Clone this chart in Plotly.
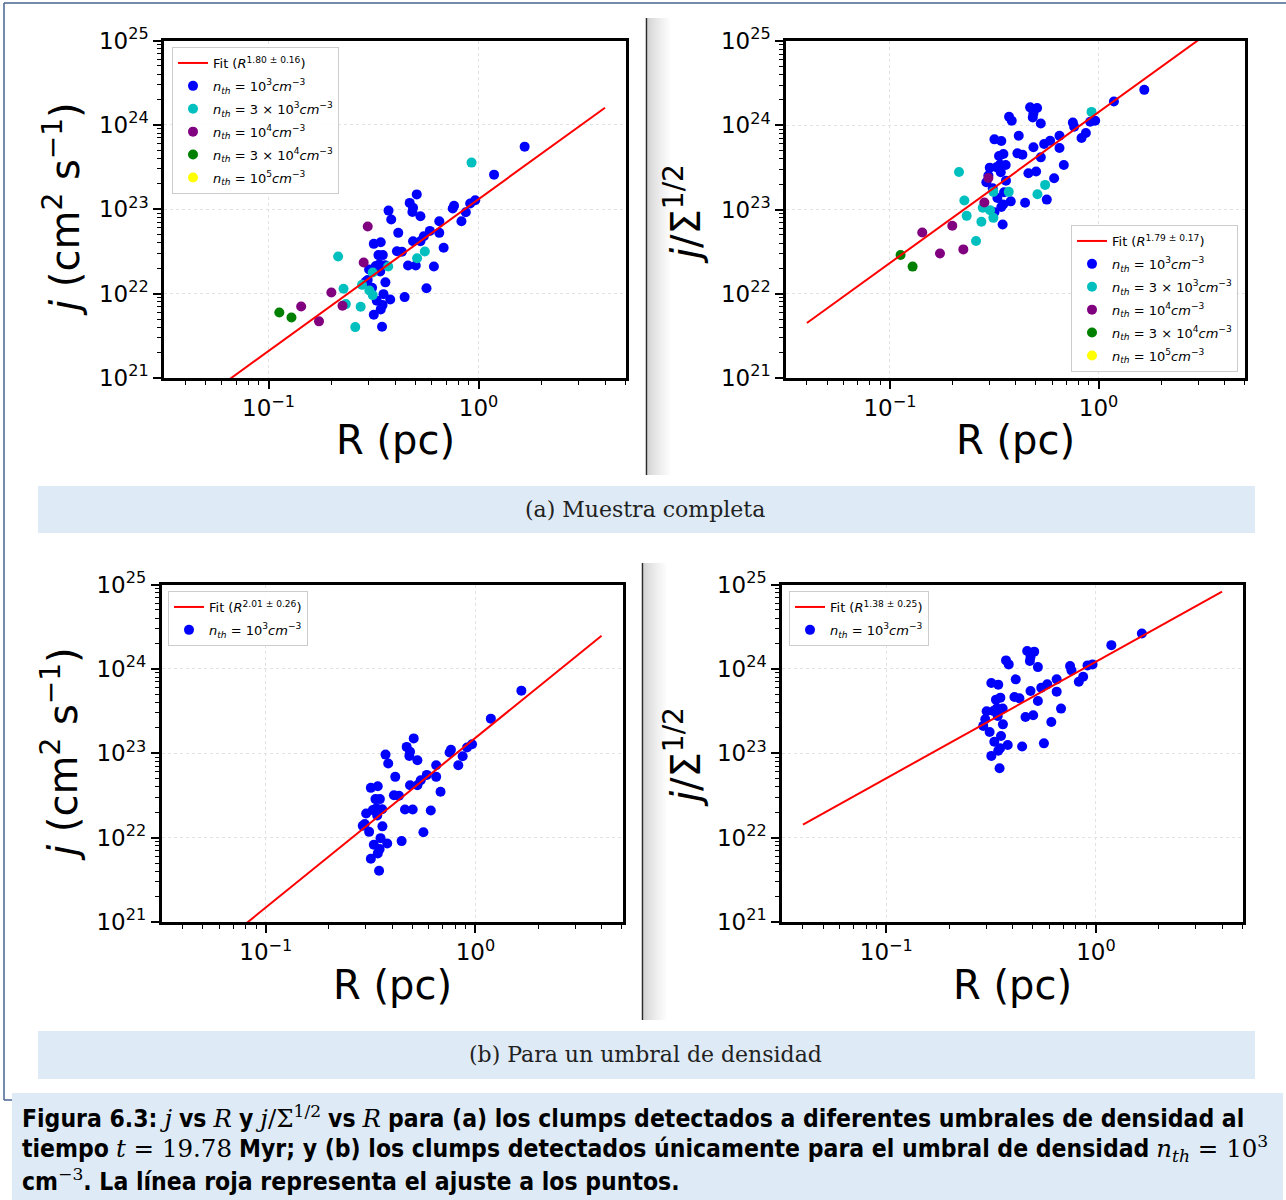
import plotly.graph_objects as go

W, H = 1286, 1200

# ------------------------- data -------------------------
# clumps at n_th = 1e3 cm^-3 (shared by all four panels)
R_n1e3 = [0.290, 0.2965, 0.301, 0.311, 0.317, 0.317, 0.324, 0.3275, 0.3335, 0.337,
          0.340, 0.342, 0.342, 0.347, 0.349, 0.350, 0.3525, 0.359, 0.360, 0.3725,
          0.3795, 0.3837, 0.4085, 0.4145, 0.4316, 0.4446, 0.4613, 0.4699, 0.4840, 0.4875,
          0.4875, 0.5021, 0.5077, 0.5287, 0.5287, 0.5485, 0.5649, 0.5861, 0.6126, 0.6499,
          0.6499, 0.6818, 0.7530, 0.7642, 0.8288, 0.8694, 0.9120, 0.9638, 1.185, 1.657]
j_n1e3 = [1.38e22, 1.45e22, 1.93e22, 1.17e22, 3.89e22, 5.62e21, 2.12e22, 8.23e21, 2.86e22, 2.23e22,
          1.83e22, 4.07e22, 6.50e21, 4.05e21, 7.31e21, 2.86e22, 9.86e21, 2.17e22, 1.36e22, 9.64e22,
          8.53e21, 7.55e22, 3.18e22, 5.25e22, 3.13e22, 9.09e21, 2.15e22, 1.19e23, 9.30e22, 1.04e23,
          4.18e22, 2.15e22, 1.50e23, 4.18e22, 8.26e22, 4.79e22, 1.16e22, 5.54e22, 2.10e22, 7.21e22,
          5.25e22, 3.49e22, 1.02e23, 1.10e23, 7.21e22, 9.21e22, 1.17e23, 1.28e23, 2.57e23, 5.52e23]
js_n1e3 = [2.11e23, 2.53e23, 3.14e23, 1.79e23, 6.80e23, 9.30e22, 3.17e23, 1.37e23, 4.32e23, 3.41e23,
           2.77e23, 6.50e23, 1.07e23, 6.65e22, 1.15e23, 4.56e23, 1.60e23, 3.38e23, 2.20e23, 1.26e24,
           1.25e23, 1.13e24, 4.64e23, 7.51e23, 4.48e23, 1.20e23, 2.69e23, 1.63e24, 1.24e24, 1.38e24,
           5.47e23, 2.82e23, 1.60e24, 4.16e23, 1.05e24, 5.98e23, 1.31e23, 6.56e23, 2.35e23, 7.51e23,
           5.37e23, 3.38e23, 1.08e24, 9.60e23, 7.05e23, 8.08e23, 1.10e24, 1.13e24, 1.91e24, 2.63e24]

# clumps at n_th = 3e3 cm^-3
R_n3e3 = [0.2144, 0.2274, 0.2333, 0.2587, 0.2745, 0.2786, 0.302, 0.3133, 0.3133, 0.3712, 0.5096, 0.5546, 0.9256]
j_n3e3 = [2.75e22, 1.14e22, 7.51e21, 4.01e21, 6.98e21, 1.27e22, 1.09e22, 9.60e21, 1.78e22, 2.10e22, 2.63e22, 3.16e22, 3.57e23]
js_n3e3 = [2.79e23, 1.28e23, 8.41e22, 4.22e22, 7.14e22, 1.05e23, 9.82e22, 7.96e22, 1.62e23, 1.62e23, 1.52e23, 1.96e23, 1.44e24]

# clumps at n_th = 1e4 cm^-3
R_n1e4 = [0.2965, 0.2837, 0.1991, 0.2249, 0.1429, 0.1738]
j_n1e4 = [6.24e22, 2.34e22, 1.03e22, 7.18e21, 7.05e21, 4.69e21]
js_n1e4 = [2.37e23, 1.21e23, 6.41e22, 3.36e22, 5.34e22, 3.01e22]

# clumps at n_th = 3e4 cm^-3
R_n3e4 = [0.1125, 0.1285]
j_n3e4 = [5.98e21, 5.22e21]
js_n3e4 = [2.88e22, 2.10e22]

# clumps at n_th = 1e5 cm^-3 (no clump shown; legend entry only)
R_n1e5 = [None]
j_n1e5 = [None]
js_n1e5 = [None]

# power-law fits  y = 10**logA * R**slope, drawn over R in fit_R_range
fit_R_range = [0.04, 4.0]
fit_slope = {"TL": 1.80, "TR": 1.79, "BL": 2.01, "BR": 1.38}
fit_logA = {"TL": 23.12, "TR": 24.155, "BL": 23.182, "BR": 24.084}
fit_label = {"TL": "1.80 ± 0.16", "TR": "1.79 ± 0.17", "BL": "2.01 ± 0.26", "BR": "1.38 ± 0.25"}

x_major = [0.1, 1.0]
x_major_text = ["10<sup>−1</sup>", "10<sup>0</sup>"]
y_major = [1e21, 1e22, 1e23, 1e24, 1e25]
y_major_text = ["10<sup>21</sup>", "10<sup>22</sup>", "10<sup>23</sup>", "10<sup>24</sup>", "10<sup>25</sup>"]
x_minor = [0.04, 0.05, 0.06, 0.07, 0.08, 0.09, 0.2, 0.3, 0.4, 0.5, 0.6, 0.7, 0.8, 0.9, 2, 3, 4, 5]
y_minor = [k * 10.0 ** e for e in range(21, 25) for k in range(2, 10)]

# ------------------------- layout helpers -------------------------
def fx(x):
    return x / W

def fy(y):
    return 1 - y / H

panels = {
    "TL": dict(ax="", x=(164, 626), y=(40.5, 378)),
    "TR": dict(ax="2", x=(786, 1245), y=(41, 378)),
    "BL": dict(ax="3", x=(161.5, 622.5), y=(584.5, 922)),
    "BR": dict(ax="4", x=(782, 1243), y=(584.5, 922)),
}
legend_of = {"TL": "legend", "TR": "legend2", "BL": "legend3", "BR": "legend4"}

series = [
    ("n1e3", "<i>n<sub>th</sub></i> = 10<sup>3</sup><i>cm</i><sup>−3</sup>", "#0000ff", R_n1e3, j_n1e3, js_n1e3),
    ("n3e3", "<i>n<sub>th</sub></i> = 3 × 10<sup>3</sup><i>cm</i><sup>−3</sup>", "#00bfbf", R_n3e3, j_n3e3, js_n3e3),
    ("n1e4", "<i>n<sub>th</sub></i> = 10<sup>4</sup><i>cm</i><sup>−3</sup>", "#800080", R_n1e4, j_n1e4, js_n1e4),
    ("n3e4", "<i>n<sub>th</sub></i> = 3 × 10<sup>4</sup><i>cm</i><sup>−3</sup>", "#008000", R_n3e4, j_n3e4, js_n3e4),
    ("n1e5", "<i>n<sub>th</sub></i> = 10<sup>5</sup><i>cm</i><sup>−3</sup>", "#ffff00", R_n1e5, j_n1e5, js_n1e5),
]

fig = go.Figure()

for key, p in panels.items():
    xa = "x" + p["ax"]
    ya = "y" + p["ax"]
    use_js = key in ("TR", "BR")
    ser = series if key in ("TL", "TR") else series[:1]
    for rank, (sid, name, col, R, j, js) in enumerate(ser):
        fig.add_trace(go.Scatter(
            x=R, y=(js if use_js else j), mode="markers", name=name,
            marker=dict(color=col, size=10, line=dict(width=0)),
            xaxis=xa, yaxis=ya, legend=legend_of[key], legendgroup=key + sid,
            legendrank=rank + 2,
        ))
    fr = fit_R_range
    fy_vals = [10 ** fit_logA[key] * r ** fit_slope[key] for r in fr]
    fig.add_trace(go.Scatter(
        x=fr, y=fy_vals, mode="lines", name="Fit (<i>R</i><sup>" + fit_label[key] + "</sup>)",
        line=dict(color="#ff0000", width=2), xaxis=xa, yaxis=ya,
        legend=legend_of[key], legendgroup=key + "fit", legendrank=1,
    ))

tickfont = dict(family="DejaVu Sans", size=23, color="black")
for key, p in panels.items():
    xa = dict(
        type="log", range=[-1.498, 0.702], domain=[fx(p["x"][0]), fx(p["x"][1])],
        anchor="y" + p["ax"], showline=True, linewidth=2.5, linecolor="black", mirror=True,
        ticks="outside", ticklen=8, tickwidth=1.5, tickcolor="black",
        tickmode="array", tickvals=x_major, ticktext=x_major_text, tickfont=tickfont,
        showgrid=True, gridcolor="#e2e2e2", griddash="dot", gridwidth=1, zeroline=False,
        automargin=False,
        minor=dict(tickmode="array", tickvals=x_minor, ticks="outside", ticklen=4, tickwidth=1,
                   tickcolor="black", showgrid=False),
    )
    ya = dict(
        type="log", range=[21, 25], domain=[fy(p["y"][1]), fy(p["y"][0])],
        anchor="x" + p["ax"], showline=True, linewidth=2.5, linecolor="black", mirror=True,
        ticks="outside", ticklen=8, tickwidth=1.5, tickcolor="black",
        tickmode="array", tickvals=y_major, ticktext=y_major_text, tickfont=tickfont,
        showgrid=True, gridcolor="#e2e2e2", griddash="dot", gridwidth=1, zeroline=False,
        automargin=False,
        minor=dict(tickmode="array", tickvals=y_minor, ticks="outside", ticklen=4, tickwidth=1,
                   tickcolor="black", showgrid=False),
    )
    fig.update_layout(**{"xaxis" + p["ax"]: xa, "yaxis" + p["ax"]: ya})

legend_common = dict(
    bgcolor="rgba(255,255,255,0.9)", bordercolor="#cccccc", borderwidth=1,
    font=dict(family="DejaVu Sans", size=13, color="black"),
    tracegroupgap=3, traceorder="grouped",
)
fig.update_layout(
    legend=dict(x=fx(172), y=fy(47), xanchor="left", yanchor="top", **legend_common),
    legend2=dict(x=fx(1238), y=fy(372), xanchor="right", yanchor="bottom", **legend_common),
    legend3=dict(x=fx(168), y=fy(591), xanchor="left", yanchor="top", **legend_common),
    legend4=dict(x=fx(789), y=fy(591), xanchor="left", yanchor="top", **legend_common),
)

# ------------------------- decorations -------------------------
shapes = []
frame_col = "#46648f"
panel_bg = "#deebf6"
# outer frame
shapes.append(dict(type="line", xref="paper", yref="paper", x0=fx(4), x1=fx(1286), y0=fy(3), y1=fy(3),
                   line=dict(color=frame_col, width=1.5)))
shapes.append(dict(type="line", xref="paper", yref="paper", x0=fx(4), x1=fx(4), y0=fy(3), y1=fy(1100),
                   line=dict(color=frame_col, width=1.5)))
shapes.append(dict(type="line", xref="paper", yref="paper", x0=fx(4), x1=fx(12), y0=fy(1100), y1=fy(1100),
                   line=dict(color=frame_col, width=1.5)))
# sub-caption boxes and caption box
for (x0, y0, x1, y1) in [(38, 486, 1255, 533), (38, 1031, 1255, 1079), (12, 1093, 1283, 1200)]:
    shapes.append(dict(type="rect", xref="paper", yref="paper", x0=fx(x0), x1=fx(x1), y0=fy(y1), y1=fy(y0),
                       line=dict(width=0), fillcolor=panel_bg, layer="below"))
# vertical dividers with soft shadow
for (xl, yt, yb) in [(646.5, 18, 475), (642.5, 563, 1020)]:
    n = 24
    for i in range(n):
        g = int(196 + (255 - 196) * (i / (n - 1)) ** 0.8)
        shapes.append(dict(type="rect", xref="paper", yref="paper", x0=fx(xl + 1 + i), x1=fx(xl + 2 + i),
                           y0=fy(yb), y1=fy(yt), line=dict(width=0),
                           fillcolor="rgb(%d,%d,%d)" % (g, g, g), layer="below"))
    shapes.append(dict(type="line", xref="paper", yref="paper", x0=fx(xl), x1=fx(xl), y0=fy(yb), y1=fy(yt),
                       line=dict(color="#2a2a2a", width=1.5)))
fig.update_layout(shapes=shapes)

ann = []
title_font = dict(family="DejaVu Sans", size=40, color="black")
for (x, y) in [(395, 440), (1015, 440), (392, 985), (1012, 985)]:
    ann.append(dict(x=fx(x), y=fy(y), xref="paper", yref="paper", text="R (pc)", showarrow=False,
                    font=title_font, xanchor="center", yanchor="middle"))
for (x, y) in [(62, 209), (60, 754)]:
    ann.append(dict(x=fx(x), y=fy(y), xref="paper", yref="paper",
                    text="<i>j</i> (cm<sup>2</sup> s<sup>−1</sup>)", showarrow=False, textangle=-90,
                    font=title_font, xanchor="center", yanchor="middle"))
for (x, y) in [(683, 214), (683, 757)]:
    ann.append(dict(x=fx(x), y=fy(y), xref="paper", yref="paper",
                    text="<i>j</i>/Σ<sup>1/2</sup>", showarrow=False, textangle=-90,
                    font=title_font, xanchor="center", yanchor="middle"))
sub_font = dict(family="DejaVu Serif", size=22, color="#222222")
ann.append(dict(x=fx(645), y=fy(509), xref="paper", yref="paper", text="(a) Muestra completa",
                showarrow=False, font=sub_font, xanchor="center", yanchor="middle"))
ann.append(dict(x=fx(645), y=fy(1054), xref="paper", yref="paper", text="(b) Para un umbral de densidad",
                showarrow=False, font=sub_font, xanchor="center", yanchor="middle"))

M = "<span style=\"font-family:DejaVu Serif;font-weight:normal\">"
cap_lines = [
    "<b>Figura 6.3:</b> " + M + "<i>j</i></span> <b>vs</b> " + M + "<i>R</i></span> <b>y</b> " + M
    + "<i>j</i>/Σ<sup>1/2</sup></span> <b>vs</b> " + M + "<i>R</i></span> "
    "<b>para (a) los clumps detectados a diferentes umbrales de densidad al</b>",
    "<b>tiempo</b> " + M + "<i>t</i> = 19.78</span> <b>Myr; y (b) los clumps detectados únicamente para el umbral de densidad</b> "
    + M + "<i>n<sub>th</sub></i> = 10<sup>3</sup></span>",
    "<b>cm</b>" + M + "<sup>−3</sup></span><b>. La línea roja representa el ajuste a los puntos.</b>",
]
cap_font = dict(family="Liberation Sans Narrow, DejaVu Sans Condensed, Roboto Condensed, Roboto, sans-serif",
                size=24.5, color="black")
for i, t in enumerate(cap_lines):
    ann.append(dict(x=fx(20), y=fy(1117 + 31.5 * i), xref="paper", yref="paper", text=t, showarrow=False,
                    font=cap_font, xanchor="left", yanchor="middle", align="left"))
fig.update_layout(annotations=ann)

fig.update_layout(
    width=W, height=H, autosize=False, margin=dict(l=0, r=0, t=0, b=0, autoexpand=False),
    paper_bgcolor="white", plot_bgcolor="white", showlegend=True,
)

fig.write_html("out.html")
